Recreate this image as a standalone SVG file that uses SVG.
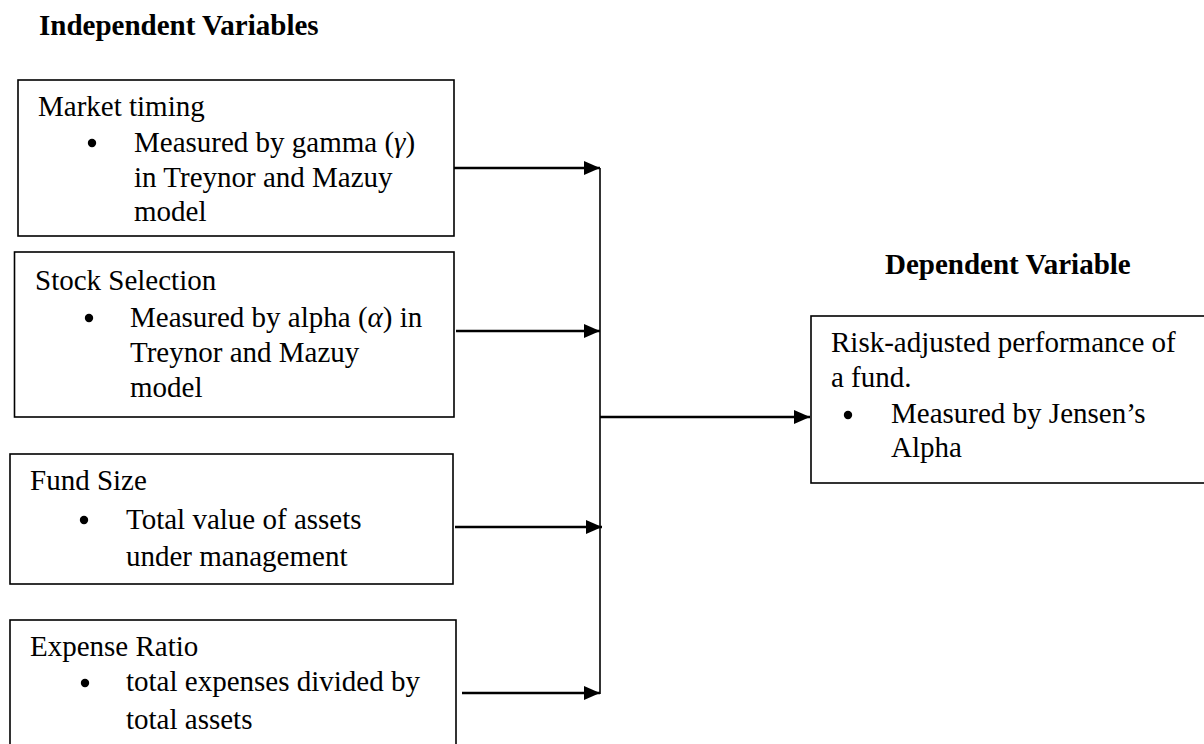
<svg xmlns="http://www.w3.org/2000/svg" width="1204" height="744" viewBox="0 0 1204 744">
<defs>
<style>
text{font-family:"Liberation Serif","Times New Roman",serif;font-size:29px;fill:#000}
.h{font-weight:bold}
.box{fill:#fff;stroke:#000;stroke-width:1.6}
.ar{stroke:#000;stroke-width:2.6;fill:none}
.ln{stroke:#000;stroke-width:1.6;fill:none}
.g{font-style:italic}
</style>
<marker id="ah" markerWidth="16" markerHeight="14" refX="16" refY="7" orient="auto" markerUnits="userSpaceOnUse">
<path d="M0,0 L16,7 L0,14 Z" fill="#000"/>
</marker>
</defs>
<rect width="1204" height="744" fill="#fff"/>
<text class="h" x="39" y="35">Independent Variables</text>
<text class="h" x="885" y="274">Dependent Variable</text>
<g id="market-timing">
<rect class="box" x="18" y="80" width="436" height="156"/>
<text x="38" y="116">Market timing</text>
<circle cx="92" cy="143" r="4.2"/>
<text x="134" y="152">Measured by gamma (<tspan class="g">γ</tspan>)</text>
<text x="134" y="187">in Treynor and Mazuy</text>
<text x="134" y="221">model</text>
</g>
<g id="stock-selection">
<rect class="box" x="14.5" y="252" width="439.5" height="165"/>
<text x="35" y="290">Stock Selection</text>
<circle cx="89" cy="318" r="4.2"/>
<text x="130" y="327">Measured by alpha (<tspan class="g">α</tspan>) in</text>
<text x="130" y="362">Treynor and Mazuy</text>
<text x="130" y="397">model</text>
</g>
<g id="fund-size">
<rect class="box" x="10" y="454" width="443" height="130"/>
<text x="30" y="490">Fund Size</text>
<circle cx="84" cy="520" r="4.2"/>
<text x="126" y="529">Total value of assets</text>
<text x="126" y="566">under management</text>
</g>
<g id="expense-ratio">
<rect class="box" x="10" y="620" width="446" height="140"/>
<text x="30" y="656">Expense Ratio</text>
<circle cx="85" cy="683" r="4.2"/>
<text x="126" y="691">total expenses divided by</text>
<text x="126" y="729">total assets</text>
</g>
<g id="risk-adjusted">
<rect class="box" x="811" y="316" width="400" height="167"/>
<text x="831" y="352">Risk-adjusted performance of</text>
<text x="831" y="387">a fund.</text>
<circle cx="848" cy="415" r="4.2"/>
<text x="891" y="423">Measured by Jensen’s</text>
<text x="891" y="457">Alpha</text>
</g>
<g id="connectors">
<line class="ln" x1="600" y1="168" x2="600" y2="694"/>
<line class="ar" x1="454" y1="168" x2="600" y2="168" marker-end="url(#ah)"/>
<line class="ar" x1="456" y1="331" x2="600" y2="331" marker-end="url(#ah)"/>
<line class="ar" x1="455" y1="527" x2="602" y2="527" marker-end="url(#ah)"/>
<line class="ar" x1="462" y1="693" x2="600" y2="693" marker-end="url(#ah)"/>
<line class="ar" x1="600" y1="417" x2="810" y2="417" marker-end="url(#ah)"/>
</g>
</svg>
